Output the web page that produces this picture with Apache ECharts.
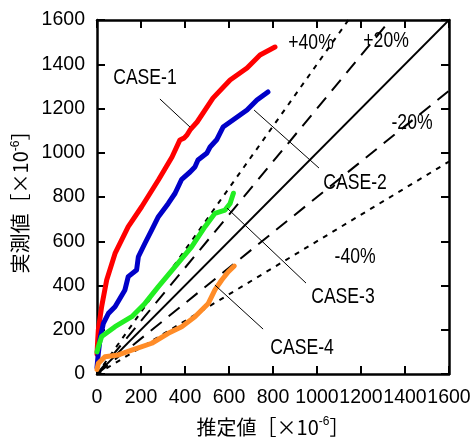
<!DOCTYPE html>
<html>
<head>
<meta charset="utf-8">
<script src="https://cdn.jsdelivr.net/npm/echarts@6/dist/echarts.min.js"></script>
<style>html,body{margin:0;padding:0;background:#fff}#main{width:476px;height:444px}</style>
</head>
<body>
<div id="main"></div>
<script>
// axis range
var axisMin = 0, axisMax = 1600, axisStep = 200;

// measured curves (estimated x / y pairs)
var case1X = [0, 3, 6, 21, 44, 82, 142, 203, 279, 341, 377, 395, 409, 423, 455, 527, 605, 682, 741, 809];
var case1Y = [90, 150, 199, 304, 425, 545, 666, 756, 877, 981, 1058, 1066, 1080, 1103, 1139, 1247, 1329, 1383, 1442, 1478];

var case2X = [0, 3, 6, 14, 29, 52, 82, 127, 142, 180, 188, 218, 249, 279, 324, 355, 385, 423, 445, 459, 500, 514, 545, 573, 618, 682, 727, 777];
var case2Y = [30, 63, 93, 160, 229, 274, 304, 380, 440, 470, 530, 591, 651, 711, 771, 817, 880, 913, 936, 967, 999, 1026, 1060, 1116, 1148, 1193, 1238, 1275];

var case3X = [0, 6, 21, 82, 158, 218, 279, 355, 430, 491, 536, 582, 605, 620];
var case3Y = [100, 123, 169, 214, 259, 319, 395, 485, 575, 666, 726, 741, 771, 817];

var case4X = [0, 6, 36, 97, 158, 249, 324, 385, 445, 506, 536, 567, 597, 624];
var case4Y = [20, 48, 78, 86, 108, 139, 184, 214, 259, 319, 380, 425, 462, 488];

// reference ratio lines (measured / estimated)
var ratios = [1.0, 1.2, 1.4, 0.8, 0.6];
var ratioDash = ['solid', [14, 9], [5, 6], [14, 9], [5, 6]];

// annotation text and their anchor points (data coords)
var noteNames = ['CASE-1', 'CASE-2', 'CASE-3', 'CASE-4', '+40%', '+20%', '-20%', '-40%'];
var noteX = [218, 1173, 1118, 932, 973, 1314, 1432, 1173];
var noteY = [1338, 863, 348, 118, 1496, 1505, 1134, 529];

// leader lines: [x1, y1, x2, y2]
var leaders = [
  [286, 1243, 423, 1116],
  [714, 1193, 1009, 931],
  [591, 750, 950, 411],
  [536, 402, 755, 203]
];

var caseColors = ['#ff0000', '#0000c8', '#22ee22', '#ff8c28'];

function pairs(xs, ys) {
  return xs.map(function(x, i) { return [x, ys[i]]; });
}

var series = [];

ratios.forEach(function(r, i) {
  var end = r >= 1 ? [axisMax / r, axisMax] : [axisMax, axisMax * r];
  series.push({
    type: 'line',
    data: [[0, 0], end],
    symbol: 'none',
    silent: true,
    lineStyle: { color: '#000', width: i === 0 ? 1.8 : 2, type: ratioDash[i] }
  });
});

leaders.forEach(function(l) {
  series.push({
    type: 'line',
    data: [[l[0], l[1]], [l[2], l[3]]],
    symbol: 'none',
    silent: true,
    z: 5,
    lineStyle: { color: '#000', width: 1 }
  });
});

[[case1X, case1Y], [case2X, case2Y], [case3X, case3Y], [case4X, case4Y]].forEach(function(c, i) {
  series.push({
    type: 'line',
    data: pairs(c[0], c[1]),
    symbol: 'none',
    z: 4,
    lineStyle: { color: caseColors[i], width: 5, cap: 'round', join: 'round' }
  });
});

var nameRich = {
  a: { fontSize: 20, fontFamily: "'Noto Sans CJK JP'", color: '#000' },
  s: { fontSize: 12, fontFamily: "'Liberation Sans'", color: '#000', verticalAlign: 'top', padding: [0, 0, 10, 0] }
};

var tickFont = { color: '#000', fontSize: 19.5, fontFamily: "'Liberation Sans', sans-serif",
  hideOverlap: false, showMinLabel: true, showMaxLabel: true,
  formatter: function(v) { return String(v); } };

function axisCommon(extra) {
  var o = {
    type: 'value',
    min: axisMin,
    max: axisMax,
    interval: axisStep,
    splitLine: { show: false },
    axisLine: { show: true, onZero: false, lineStyle: { color: '#000', width: 2.5 } },
    axisTick: { show: true, inside: true, length: 8, lineStyle: { color: '#000', width: 2 } },
    axisLabel: tickFont
  };
  for (var k in extra) o[k] = extra[k];
  return o;
}

var chart = echarts.init(document.getElementById('main'));
chart.setOption({
  animation: false,
  backgroundColor: '#fff',
  grid: { left: 97, top: 20, right: 27, bottom: 70, containLabel: false, outerBoundsMode: 'none' },
  xAxis: [
    axisCommon({
      position: 'bottom',
      name: '{a|推定値［×10}{s|-6}{a|］}',
      nameLocation: 'middle',
      nameGap: 42,
      nameTextStyle: { rich: nameRich },
      axisLabel: Object.assign({}, tickFont, { margin: 14 })
    }),
    axisCommon({ position: 'top', axisLabel: { show: false } })
  ],
  yAxis: [
    axisCommon({
      position: 'left',
      name: '{a|実測値［×10}{s|-6}{a|］}',
      nameLocation: 'middle',
      nameRotate: 90,
      nameGap: 58,
      nameTextStyle: { rich: nameRich },
      axisLabel: Object.assign({}, tickFont, { margin: 12 })
    }),
    axisCommon({ position: 'right', axisLabel: { show: false } })
  ],
  series: series
});

// annotation labels, placed through the grid's own scale, narrowed like the original font
chart.setOption({
  graphic: noteNames.map(function(n, i) {
    var p = chart.convertToPixel({ gridIndex: 0 }, [noteX[i], noteY[i]]);
    return {
      type: 'text',
      x: p[0],
      y: p[1],
      scaleX: 0.8,
      z: 10,
      style: {
        text: n,
        fill: '#000',
        fontSize: 22,
        fontFamily: "'Liberation Sans', sans-serif",
        align: 'center',
        verticalAlign: 'middle'
      }
    };
  })
});
</script>
</body>
</html>
